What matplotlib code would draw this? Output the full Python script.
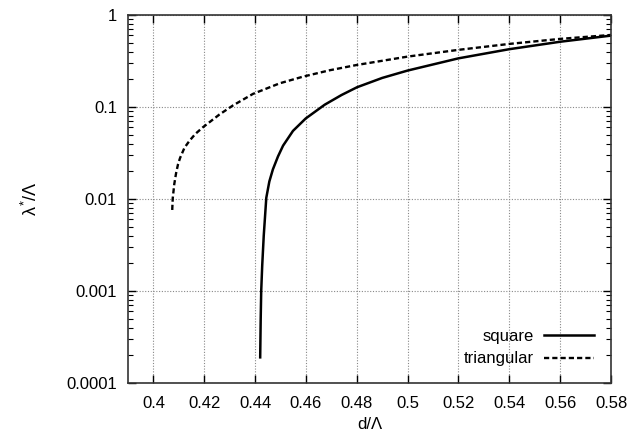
import matplotlib
matplotlib.use("Agg")
import matplotlib.pyplot as plt
from matplotlib.ticker import LogLocator, FixedLocator, FixedFormatter

plt.rcParams['font.family'] = ['Liberation Sans', 'DejaVu Sans']
plt.rcParams['mathtext.fontset'] = 'custom'
plt.rcParams['mathtext.rm'] = 'Liberation Sans'
plt.rcParams['mathtext.it'] = 'Liberation Sans'

# square lattice
sq_x = [0.4420, 0.4422, 0.4424, 0.4428, 0.4434, 0.4444, 0.4456, 0.4470, 0.4490,
        0.4510, 0.4549, 0.4599, 0.4674, 0.4740, 0.4801, 0.4900, 0.5000, 0.5200,
        0.5400, 0.5600, 0.5800]
sq_y = [0.00019, 0.0005, 0.001, 0.0019, 0.0040, 0.0103, 0.0155, 0.0210, 0.029,
        0.038, 0.055, 0.075, 0.106, 0.135, 0.164, 0.207, 0.249, 0.338,
        0.425, 0.512, 0.597]

# triangular lattice
tr_x = [0.4074, 0.4076, 0.4082, 0.4089, 0.4097, 0.4105, 0.4122, 0.4142, 0.4165,
        0.4194, 0.4260, 0.4313, 0.4392, 0.4497, 0.4589, 0.4694, 0.4799, 0.5000,
        0.5200, 0.5400, 0.5600, 0.5800]
tr_y = [0.0076, 0.0102, 0.0145, 0.019, 0.024, 0.028, 0.036, 0.043, 0.051,
        0.060, 0.083, 0.104, 0.139, 0.181, 0.214, 0.251, 0.286, 0.353,
        0.418, 0.485, 0.550, 0.607]

x_ticks = [0.40, 0.42, 0.44, 0.46, 0.48, 0.50, 0.52, 0.54, 0.56, 0.58]
x_tick_labels = ['0.4', '0.42', '0.44', '0.46', '0.48', '0.5', '0.52', '0.54', '0.56', '0.58']
y_ticks = [0.0001, 0.001, 0.01, 0.1, 1]
y_tick_labels = ['0.0001', '0.001', '0.01', '0.1', '1']

fig = plt.figure(figsize=(6.41, 4.38), dpi=100)
ax = fig.add_axes([128/641, 1-383/438, (611-128)/641, (383-15)/438])

ax.plot(sq_x, sq_y, color='black', lw=1.8, ls='-', label='square')
ax.plot(tr_x, tr_y, color='black', lw=1.7, ls=(0, (2.2, 1.3)), label='triangular')

ax.set_yscale('log')
ax.set_xlim(0.39, 0.58)
ax.set_ylim(0.0001, 1)

ax.xaxis.set_major_locator(FixedLocator(x_ticks))
ax.xaxis.set_major_formatter(FixedFormatter(x_tick_labels))
ax.yaxis.set_major_locator(FixedLocator(y_ticks))
ax.yaxis.set_major_formatter(FixedFormatter(y_tick_labels))
ax.yaxis.set_minor_locator(LogLocator(base=10, subs=range(2, 10)))
ax.yaxis.set_minor_formatter(FixedFormatter([]))

ax.tick_params(which='major', direction='in', length=6, width=1, top=True, right=True,
               labelsize=12, pad=8, color='black')
ax.tick_params(which='minor', direction='in', length=3.5, width=0.8, top=True, right=True,
               color='black')
ax.tick_params(axis='x', pad=9)

ax.grid(True, which='major', color='#888888', ls=(0, (1, 1.5)), lw=0.8)
for s in ax.spines.values():
    s.set_color('#333333')
    s.set_linewidth(1.2)

ax.set_xlabel('d/Λ', fontsize=12, labelpad=5)
ax.set_ylabel(r'$\lambda^{*}/\Lambda$', fontsize=13, labelpad=18)

leg = ax.legend(loc='lower right', frameon=False, markerfirst=False, fontsize=12,
                handlelength=3.0, handletextpad=0.6, borderaxespad=0.6,
                labelspacing=0.45)
for t in leg.get_texts():
    t.set_ha('right')

fig.savefig('out.png', dpi=100)
